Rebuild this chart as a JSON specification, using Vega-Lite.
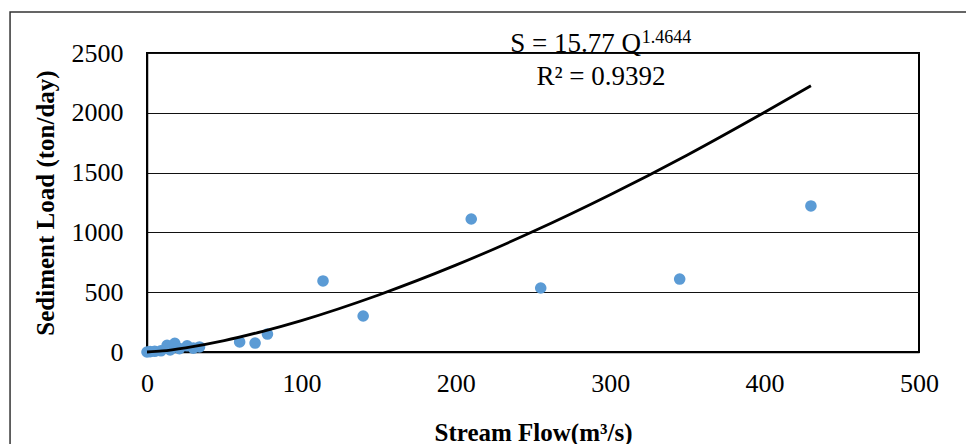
{
  "$schema": "https://vega.github.io/schema/vega-lite/v6.json",
  "width": 772,
  "height": 299,
  "autosize": {"type": "none"},
  "padding": {"left": 147, "top": 53, "right": 47, "bottom": 92},
  "background": "white",
  "config": {
    "view": {"stroke": "black", "strokeWidth": 2},
    "font": "Liberation Serif",
    "axis": {
      "labelFont": "Liberation Serif",
      "titleFont": "Liberation Serif",
      "labelFontSize": 26,
      "titleFontSize": 25,
      "labelColor": "black",
      "titleColor": "black",
      "ticks": false,
      "domainColor": "black",
      "domainWidth": 1.5,
      "gridColor": "#111",
      "gridWidth": 1,
      "gridOpacity": 1
    }
  },
  "datasets": {
    "obs": [
      {"Q": 0, "S": 0},
      {"Q": 2, "S": 3},
      {"Q": 5, "S": 6},
      {"Q": 9, "S": 10},
      {"Q": 13, "S": 55},
      {"Q": 15, "S": 18},
      {"Q": 18, "S": 72},
      {"Q": 21, "S": 28},
      {"Q": 26, "S": 52},
      {"Q": 30, "S": 32},
      {"Q": 34, "S": 42},
      {"Q": 60, "S": 84},
      {"Q": 70, "S": 75},
      {"Q": 78, "S": 150},
      {"Q": 114, "S": 594},
      {"Q": 140, "S": 301},
      {"Q": 210, "S": 1112},
      {"Q": 255, "S": 535},
      {"Q": 345, "S": 610},
      {"Q": 430, "S": 1221}
    ],
    "curve": [
      {"Q": 0, "S": 0},
      {"Q": 10, "S": 9},
      {"Q": 25, "S": 35},
      {"Q": 50, "S": 95},
      {"Q": 75, "S": 173},
      {"Q": 100, "S": 263},
      {"Q": 150, "S": 477},
      {"Q": 200, "S": 726},
      {"Q": 250, "S": 1007},
      {"Q": 300, "S": 1315},
      {"Q": 350, "S": 1648},
      {"Q": 400, "S": 2005},
      {"Q": 430, "S": 2226}
    ]
  },
  "layer": [
    {
      "data": {"values": [{"k": "frame"}]},
      "mark": {"type": "rect", "fill": null, "stroke": "#333", "strokeWidth": 1.5, "clip": false},
      "encoding": {
        "x": {"datum": -88.7, "type": "quantitative"},
        "x2": {"datum": 560},
        "y": {"datum": 2843, "type": "quantitative"},
        "y2": {"datum": -900}
      }
    },
    {
      "data": {"name": "obs"},
      "mark": {"type": "circle", "size": 135, "color": "#5B9BD5", "opacity": 1},
      "encoding": {
        "x": {
          "field": "Q", "type": "quantitative",
          "scale": {"domain": [0, 500], "nice": false},
          "axis": {"values": [0, 100, 200, 300, 400, 500], "format": "d", "title": "Stream Flow(m³/s)", "labelPadding": 18, "titlePadding": 24, "grid": false, "labelFlush": false}
        },
        "y": {
          "field": "S", "type": "quantitative",
          "scale": {"domain": [0, 2500], "nice": false},
          "axis": {"values": [0, 500, 1000, 1500, 2000, 2500], "format": "d", "title": "Sediment Load (ton/day)", "labelPadding": 24, "titlePadding": 13, "grid": true, "labelFlush": false}
        }
      }
    },
    {
      "data": {"name": "curve"},
      "mark": {"type": "line", "color": "black", "strokeWidth": 2.8, "interpolate": "monotone"},
      "encoding": {
        "x": {"field": "Q", "type": "quantitative"},
        "y": {"field": "S", "type": "quantitative"}
      }
    },
    {
      "data": {"values": [{"t": "S = 15.77 Q"}]},
      "mark": {"type": "text", "align": "right", "baseline": "alphabetic", "fontSize": 27, "font": "Liberation Serif", "color": "black"},
      "encoding": {
        "x": {"datum": 320},
        "y": {"datum": 2508},
        "text": {"field": "t"}
      }
    },
    {
      "data": {"values": [{"t": "1.4644"}]},
      "mark": {"type": "text", "align": "left", "baseline": "alphabetic", "fontSize": 18, "font": "Liberation Serif", "color": "black"},
      "encoding": {
        "x": {"datum": 320.5},
        "y": {"datum": 2585},
        "text": {"field": "t"}
      }
    },
    {
      "data": {"values": [{"t": "R² = 0.9392"}]},
      "mark": {"type": "text", "align": "center", "baseline": "alphabetic", "fontSize": 27, "font": "Liberation Serif", "color": "black"},
      "encoding": {
        "x": {"datum": 294},
        "y": {"datum": 2232},
        "text": {"field": "t"}
      }
    }
  ]
}
